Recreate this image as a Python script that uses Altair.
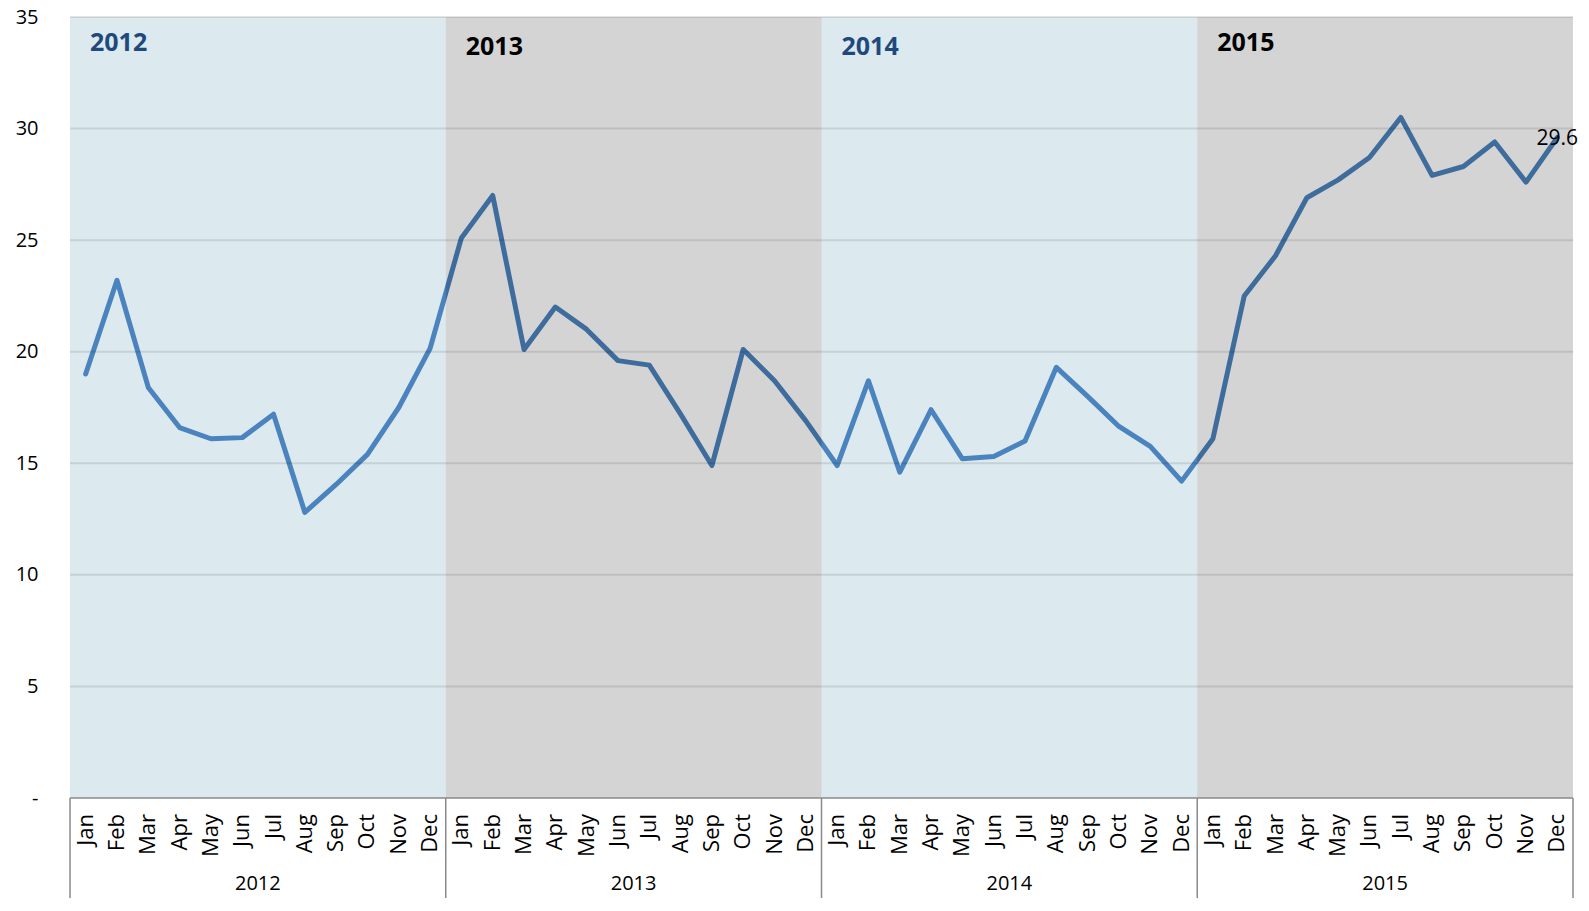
import altair as alt
import pandas as pd

years = ["2012", "2013", "2014", "2015"]
months = ["Jan", "Feb", "Mar", "Apr", "May", "Jun", "Jul", "Aug", "Sep", "Oct", "Nov", "Dec"]
v2012 = [19.0, 23.2, 18.4, 16.6, 16.1, 16.15, 17.2, 12.8, 14.05, 15.4, 17.5, 20.15]
v2013 = [25.1, 27.0, 20.1, 22.0, 21.0, 19.6, 19.4, 17.2, 14.9, 20.1, 18.7, 16.9]
v2014 = [14.9, 18.7, 14.6, 17.4, 15.2, 15.3, 16.0, 19.3, 18.0, 16.65, 15.76, 14.2]
v2015 = [16.1, 22.5, 24.3, 26.9, 27.7, 28.7, 30.5, 27.9, 28.3, 29.4, 27.6, 29.6]
band_kinds = ["light", "dark", "light", "dark"]
y_ticks = [0, 5, 10, 15, 20, 25, 30, 35]

W, H = 1503, 781
FONT = "Open Sans"

rows = []
for yi, (yr, vals) in enumerate(zip(years, [v2012, v2013, v2014, v2015])):
    for mi, (m, v) in enumerate(zip(months, vals)):
        idx = yi * 12 + mi
        rows.append({"pos": idx + 0.5, "value": v, "month": m, "year": yr})
line_df = pd.DataFrame(rows)
last_df = line_df.tail(1)

band_df = pd.DataFrame({
    "year": years,
    "order": list(range(len(years))),
    "start": [12 * i for i in range(len(years))],
    "end": [12 * (i + 1) for i in range(len(years))],
    "mid": [12 * i + 6 for i in range(len(years))],
    "kind": band_kinds,
    "lo": [0] * len(years),
    "hi": [35] * len(years),
})
grid_df = pd.DataFrame({"g": y_ticks[1:]})
sep_df = pd.DataFrame({"b": [0, 12, 24, 36, 48]})

xs = alt.Scale(domain=[0, 48], nice=False, zero=False)
ys = alt.Scale(domain=[0, 35], nice=False, zero=False)
yaxis = alt.Axis(values=y_ticks, grid=False, domain=False, ticks=False,
                 labelFontSize=20, labelFont=FONT, labelColor="#000000",
                 labelPadding=32, title=None,
                 labelExpr="datum.value == 0 ? '-' : datum.label")

light = alt.Chart(band_df).transform_filter("datum.kind == 'light'").mark_rect(
    color="#DCE9EE").encode(
    x=alt.X("start:Q", scale=xs, axis=None), x2="end:Q",
    y=alt.Y("lo:Q", scale=ys, axis=yaxis), y2="hi:Q")

line = alt.Chart(line_df).mark_line(
    color="#4A83BD", strokeWidth=5, strokeJoin="round", strokeCap="round").encode(
    x=alt.X("pos:Q", scale=xs, axis=None),
    y=alt.Y("value:Q", scale=ys, axis=yaxis))

dark = alt.Chart(band_df).transform_filter("datum.kind == 'dark'").mark_rect(
    color="#000000", opacity=0.17).encode(
    x=alt.X("start:Q", scale=xs, axis=None), x2="end:Q",
    y=alt.Y("lo:Q", scale=ys, axis=yaxis), y2="hi:Q")

grid = alt.Chart(grid_df).mark_rule(color="#000000", opacity=0.1, strokeWidth=2).encode(
    y=alt.Y("g:Q", scale=ys, axis=yaxis), x=alt.value(0), x2=alt.value(W))

hdr_color = alt.Color("kind:N", scale=alt.Scale(domain=["light", "dark"],
                                                range=["#1F497D", "#000000"]), legend=None)
headers_a = alt.Chart(band_df).transform_filter("datum.order == 0 || datum.order == 3").mark_text(
    font=FONT, fontSize=25, fontWeight="bold", align="left", baseline="middle", dx=20).encode(
    x=alt.X("start:Q", scale=xs, axis=None), y=alt.value(26), text="year:N", color=hdr_color)
headers_b = alt.Chart(band_df).transform_filter("datum.order == 1 || datum.order == 2").mark_text(
    font=FONT, fontSize=25, fontWeight="bold", align="left", baseline="middle", dx=20).encode(
    x=alt.X("start:Q", scale=xs, axis=None), y=alt.value(30), text="year:N", color=hdr_color)

data_label = alt.Chart(last_df).mark_text(
    font=FONT, fontSize=21, color="#000000", align="center", baseline="middle", dx=0, dy=2).encode(
    x=alt.X("pos:Q", scale=xs, axis=None),
    y=alt.Y("value:Q", scale=ys, axis=yaxis),
    text=alt.Text("value:Q", format=".1f"))

month_labels = alt.Chart(line_df).mark_text(
    font=FONT, fontSize=22, color="#000000", angle=270, align="right", baseline="middle").encode(
    x=alt.X("pos:Q", scale=xs, axis=None), y=alt.value(H + 16), text="month:N")

year_labels = alt.Chart(band_df).mark_text(
    font=FONT, fontSize=20, color="#000000", align="center", baseline="middle").encode(
    x=alt.X("mid:Q", scale=xs, axis=None), y=alt.value(H + 86), text="year:N")

seps = alt.Chart(sep_df).mark_rule(color="#8A8A8A", strokeWidth=1.5).encode(
    x=alt.X("b:Q", scale=xs, axis=None), y=alt.value(H), y2=alt.value(H + 130))

hline = alt.Chart(sep_df).transform_filter("datum.b == 0").mark_rule(
    color="#8A8A8A", strokeWidth=1.5).encode(
    x=alt.value(0), x2=alt.value(W), y=alt.value(H))

chart = alt.layer(light, line, dark, grid, headers_a, headers_b, data_label, month_labels,
                  year_labels, seps, hline).properties(
    width=W, height=H,
    autosize=alt.AutoSizeParams(type="none"),
    padding={"left": 62, "top": 9, "right": 8, "bottom": 100},
).configure_view(stroke=None)

chart.save("out.html", embed_options={"renderer": "svg", "actions": False})
